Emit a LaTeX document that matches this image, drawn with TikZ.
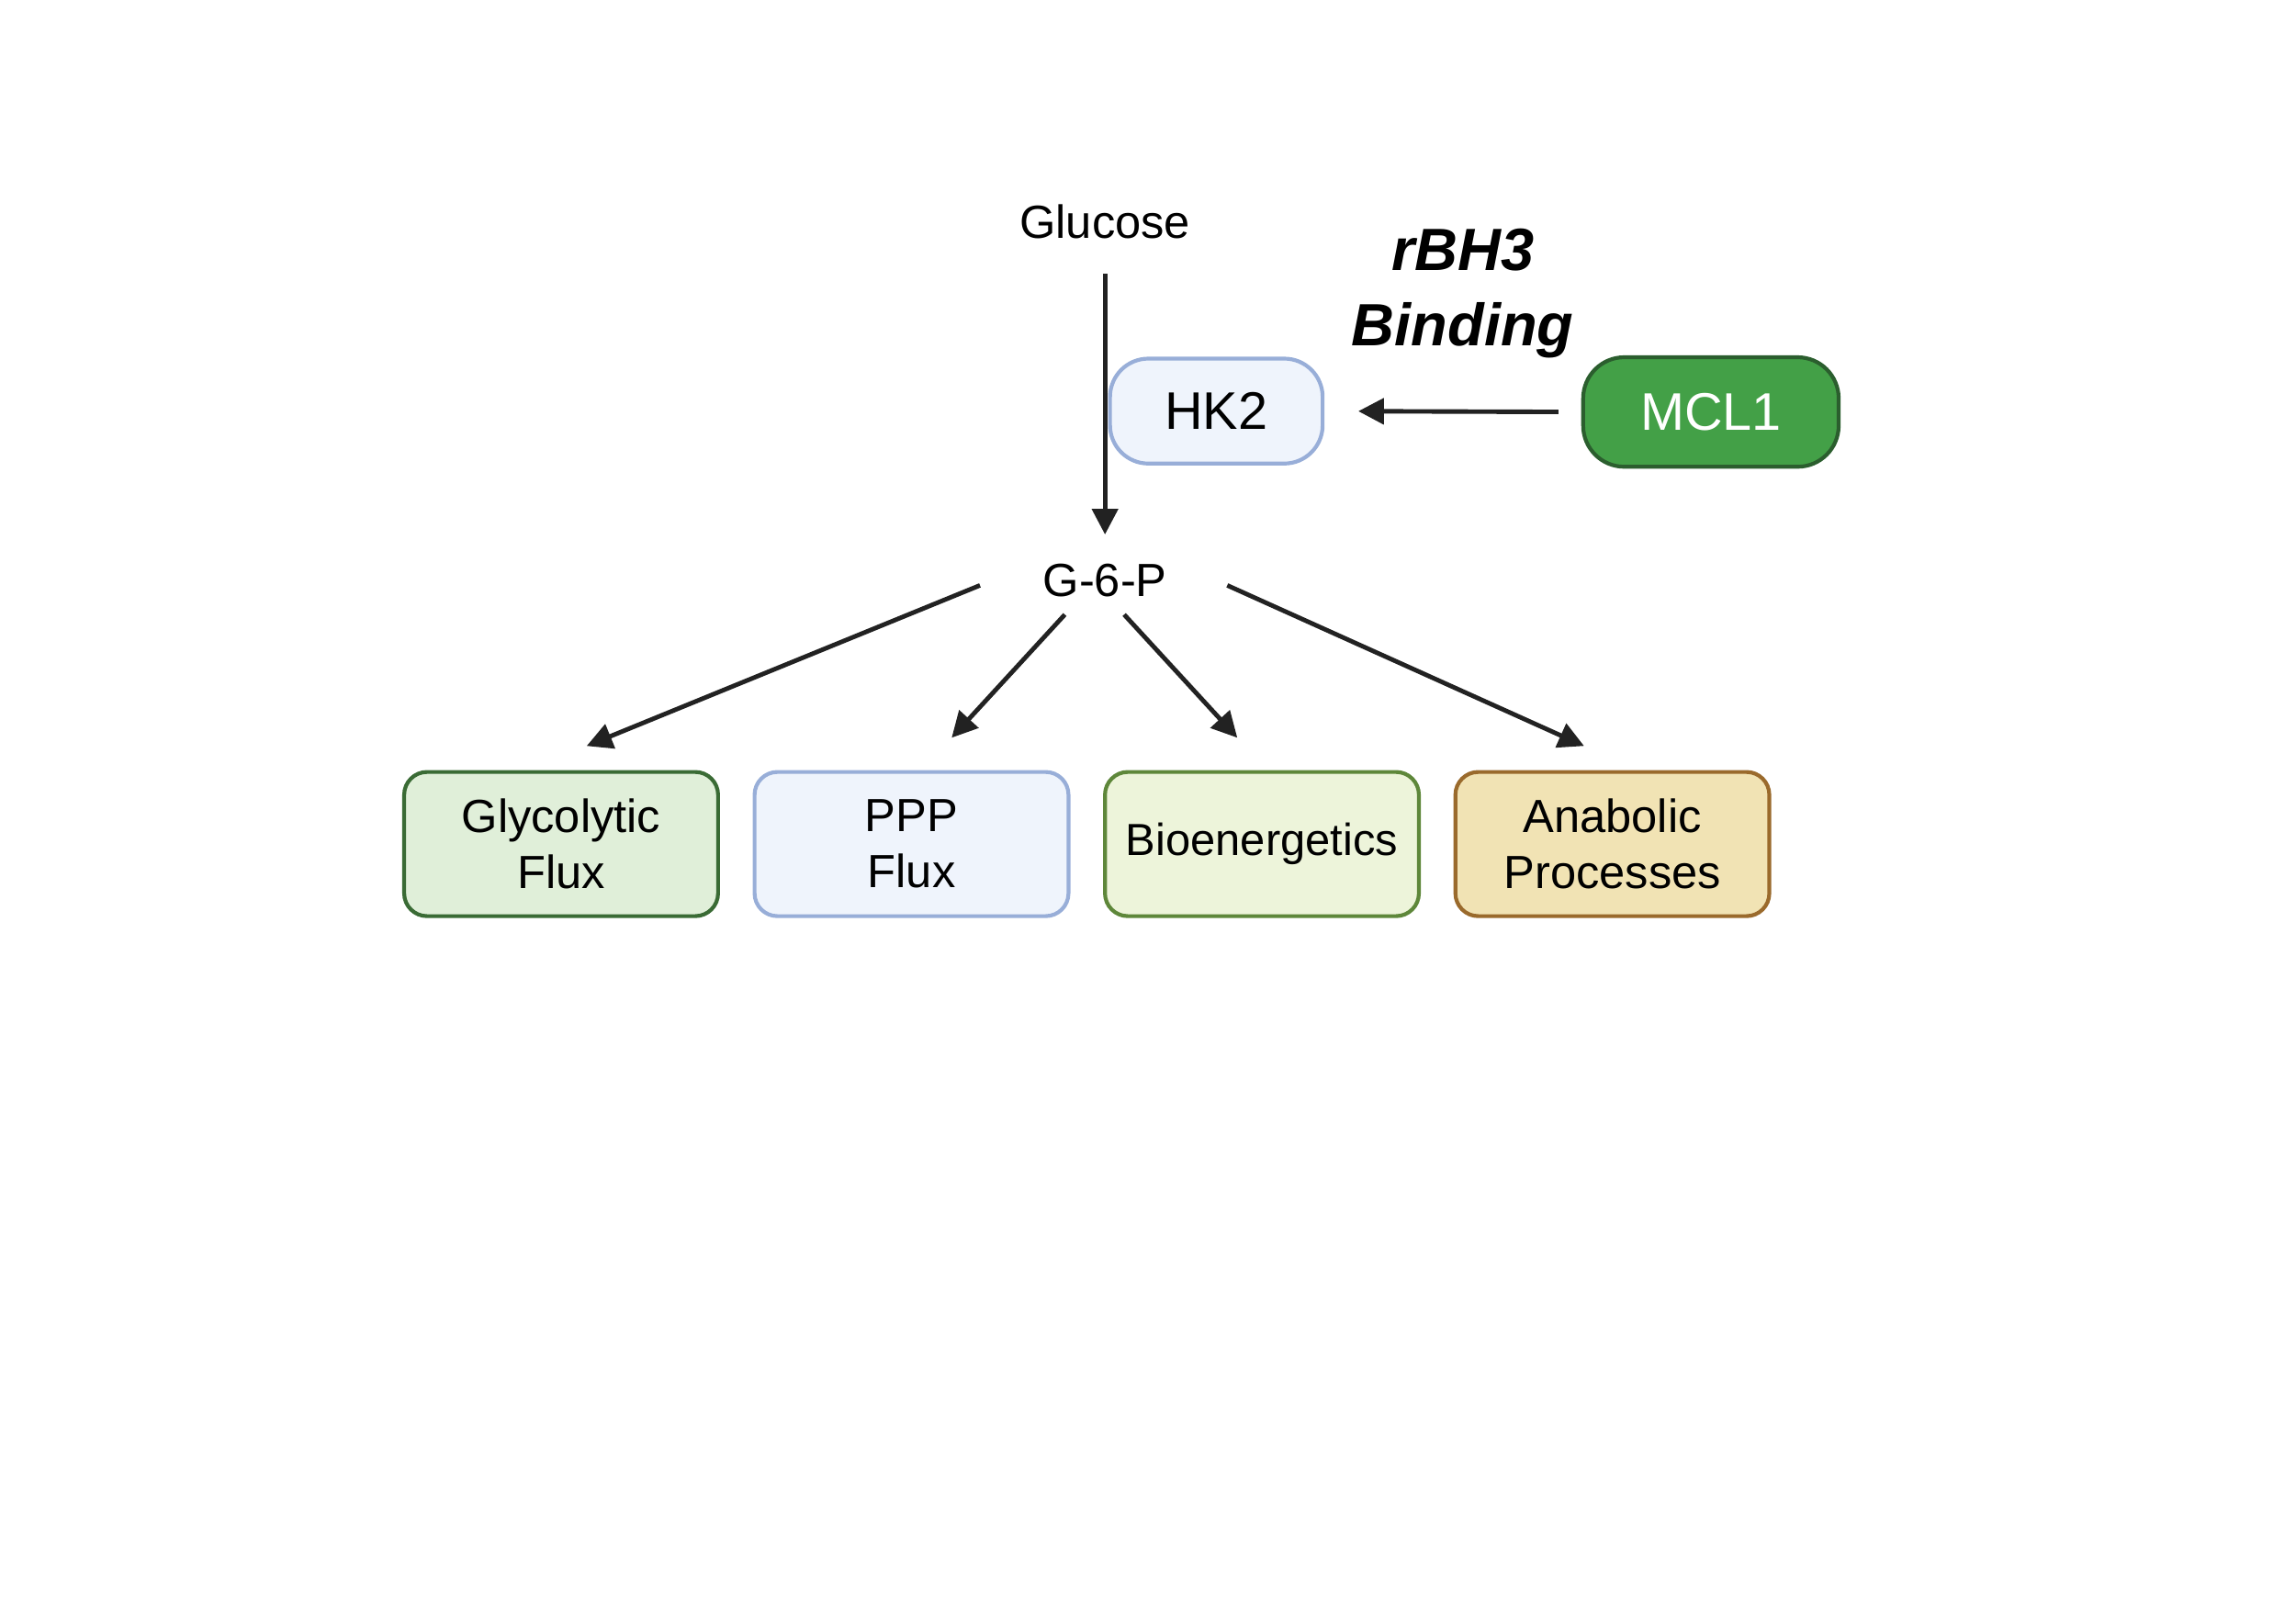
\documentclass[tikz,border=0pt]{standalone}
\usepackage{fontspec}
\setmainfont{Liberation Sans}
\usetikzlibrary{arrows.meta}

\definecolor{arrowgray}{HTML}{222222}
\definecolor{hkfill}{HTML}{EFF4FC}
\definecolor{hkdraw}{HTML}{98AED8}
\definecolor{mclfill}{HTML}{43A047}
\definecolor{mcldraw}{HTML}{2B5E2E}
\definecolor{glyfill}{HTML}{E0EFD9}
\definecolor{glydraw}{HTML}{3A6B35}
\definecolor{biofill}{HTML}{EDF4DA}
\definecolor{biodraw}{HTML}{5E873A}
\definecolor{anafill}{HTML}{F1E3B4}
\definecolor{anadraw}{HTML}{9A6A2C}

\tikzstyle{metab} = [inner sep=0pt, font=\fontsize{14.5}{17.4}\selectfont]
\tikzstyle{protein} = [draw, line width=1.2pt, rounded corners=0.42cm, minimum height=1.15cm, font=\fontsize{16.5}{20}\selectfont]
\tikzstyle{outcome} = [draw, line width=1.2pt, rounded corners=0.25cm, minimum width=3.44cm, minimum height=1.58cm, align=center, inner sep=0pt, font=\fontsize{14.5}{17.4}\selectfont]
\tikzstyle{arrow} = [draw=arrowgray, line width=1.4pt, -{Triangle[length=0.28cm,width=0.28cm]}]

\begin{document}
\begin{tikzpicture}
      \useasboundingbox (-0.029,0.015) rectangle ++(25.161,-17.613);
      \node[metab] (glc) at (12.08,-2.41) {Glucose};
      \node[metab] (g6p) at (12.08,-6.35) {G-6-P};
      \node[protein, fill=hkfill, draw=hkdraw, minimum width=2.33cm] (hk2) at (13.30,-4.49) {HK2};
      \node[protein, fill=mclfill, draw=mcldraw, text=white, minimum width=2.8cm, minimum height=1.2cm, rounded corners=0.45cm] (mcl1) at (18.72,-4.50) {MCL1};
      \node[inner sep=0pt, align=center, font=\fontsize{18.6}{23.6}\selectfont\bfseries\itshape] (bind) at (16.0,-3.20) {rBH3\\Binding};
      \node[outcome, fill=glyfill, draw=glydraw] (gly) at (6.12,-9.235) {Glycolytic\\Flux};
      \node[outcome, fill=hkfill, draw=hkdraw] (ppp) at (9.96,-9.235) {PPP\\Flux};
      \node[outcome, fill=biofill, draw=biodraw, font=\fontsize{14}{17.4}\selectfont] (bio) at (13.80,-9.235) {Bioenergetics};
      \node[outcome, fill=anafill, draw=anadraw] (ana) at (17.64,-9.235) {Anabolic\\Processes};
      \coordinate (1) at (10.71,-6.40);
      \coordinate (2) at (11.64,-6.72);
      \coordinate (3) at (12.29,-6.72);
      \coordinate (4) at (13.42,-6.40);
      \coordinate (5) at (6.40,-8.16);
      \coordinate (6) at (10.40,-8.07);
      \coordinate (7) at (13.53,-8.07);
      \coordinate (8) at (17.33,-8.16);
      \draw[arrow, shorten <=0.38cm, shorten >=0.32cm] (glc.south) -- (g6p.north);
      \draw[arrow, shorten <=0.25cm, shorten >=0.37cm] (mcl1.west) -- (hk2.east);
      \draw[arrow] (1) -- (5);
      \draw[arrow] (2) -- (6);
      \draw[arrow] (3) -- (7);
      \draw[arrow] (4) -- (8);
    \end{tikzpicture}
\end{document}
